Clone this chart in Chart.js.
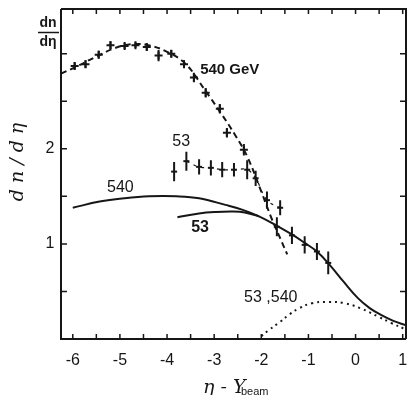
<!DOCTYPE html>
<html>
<head>
<meta charset="utf-8">
<script src="https://cdn.jsdelivr.net/npm/chart.js@4.4.1/dist/chart.umd.min.js"></script>
<style>
  html, body { margin: 0; padding: 0; background: #fff; overflow: hidden; }
  #wrap { width: 412px; height: 395px; }
</style>
</head>
<body>
<div id="wrap"><canvas id="chart" width="412" height="395"></canvas></div>
<script>
// values (x = eta - Y_beam, y = dn/deta)

// 540 GeV data points
var eta540 = [-5.96, -5.73, -5.45, -5.20, -4.90, -4.67, -4.43, -4.18, -3.91, -3.64, -3.43, -3.18, -2.88, -2.73, -2.37];
var dn540  = [2.87, 2.89, 2.99, 3.09, 3.08, 3.09, 3.07, 2.98, 3.00, 2.89, 2.75, 2.59, 2.42, 2.17, 1.99];
var err540 = [0.04, 0.04, 0.04, 0.04, 0.03, 0.03, 0.04, 0.06, 0.04, 0.04, 0.05, 0.05, 0.05, 0.05, 0.06];

// 53 GeV data points
var eta53 = [-3.85, -3.59, -3.32, -3.07, -2.83, -2.58, -2.30, -2.12, -1.88, -1.60, -1.67, -1.35, -1.08, -0.82, -0.58];
var dn53  = [1.76, 1.87, 1.81, 1.80, 1.78, 1.78, 1.78, 1.69, 1.46, 1.38, 1.18, 1.09, 0.99, 0.92, 0.80];
var err53 = [0.10, 0.10, 0.08, 0.08, 0.08, 0.07, 0.10, 0.08, 0.09, 0.08, 0.10, 0.09, 0.09, 0.09, 0.12];

// curves
var dashX = [-6.25, -5.9, -5.5, -5.1, -4.75, -4.4, -4.0, -3.6, -3.2, -2.85, -2.55, -2.3, -2.0, -1.8, -1.6, -1.45];
var dashY = [2.79, 2.87, 2.97, 3.06, 3.10, 3.09, 3.02, 2.89, 2.62, 2.37, 2.14, 1.92, 1.55, 1.29, 1.06, 0.89];

var solid540X = [-6.0, -5.43, -4.9, -4.38, -3.8, -3.32, -2.76, -2.41, -2.05, -1.74, -1.35, -1.08, -0.82, -0.55, -0.25, 0.05, 0.3, 0.55, 0.8, 1.07];
var solid540Y = [1.38, 1.445, 1.48, 1.50, 1.50, 1.48, 1.41, 1.36, 1.29, 1.21, 1.10, 1.01, 0.92, 0.78, 0.60, 0.43, 0.325, 0.25, 0.19, 0.145];

var solid53X = [-3.78, -3.32, -2.97, -2.6, -2.35, -2.05];
var solid53Y = [1.28, 1.32, 1.335, 1.34, 1.33, 1.29];

var dotX = [-2.0, -1.85, -1.63, -1.4, -1.21, -0.93, -0.58, -0.23, 0.12, 0.48, 0.75, 1.07];
var dotY = [0.03, 0.09, 0.17, 0.26, 0.32, 0.376, 0.39, 0.376, 0.32, 0.235, 0.17, 0.10];

// axis ticks
var xLabels = [-6, -5, -4, -3, -2, -1, 0, 1];
var yLabels = [1, 2];

// text placed on the plot, in data units
var notes = [
  { text: '540 GeV', x: -2.67, y: 2.83, font: 'bold 15px "Liberation Sans"' },
  { text: '53', x: -3.70, y: 2.08, font: '16px "Liberation Sans"' },
  { text: '540', x: -4.99, y: 1.59, font: '16px "Liberation Sans"' },
  { text: '53', x: -3.30, y: 1.17, font: 'bold 16px "Liberation Sans"' },
  { text: '53 ,540', x: -1.80, y: 0.44, font: '16px "Liberation Sans"' }
];

var ink = '#161616';

function pts(xs, ys) {
  return xs.map(function (x, i) { return { x: x, y: ys[i] }; });
}

function curve(xs, ys, width, dash) {
  return {
    type: 'line', data: pts(xs, ys), borderColor: ink, borderWidth: width,
    borderDash: dash, pointRadius: 0, tension: 0.4, fill: false
  };
}

// frame, inward ticks, labels and error bars, all placed through the chart's scales
var framePlugin = {
  id: 'frame',
  afterDatasetsDraw: function (chart) {
    var ctx = chart.ctx, sx = chart.scales.x, sy = chart.scales.y, a = chart.chartArea;
    ctx.save();
    ctx.strokeStyle = ink;
    ctx.fillStyle = ink;

    // error bars
    ctx.lineWidth = 2;
    ctx.beginPath();
    eta540.forEach(function (x, i) {
      var px = sx.getPixelForValue(x);
      ctx.moveTo(px, sy.getPixelForValue(dn540[i] - err540[i]));
      ctx.lineTo(px, sy.getPixelForValue(dn540[i] + err540[i]));
    });
    eta53.forEach(function (x, i) {
      var px = sx.getPixelForValue(x);
      ctx.moveTo(px, sy.getPixelForValue(dn53[i] - err53[i]));
      ctx.lineTo(px, sy.getPixelForValue(dn53[i] + err53[i]));
    });
    ctx.stroke();

    // axes
    ctx.lineWidth = 2;
    ctx.beginPath();
    ctx.moveTo(a.left, a.top); ctx.lineTo(a.left, a.bottom); ctx.lineTo(a.right, a.bottom);
    ctx.moveTo(a.left, a.top); ctx.lineTo(a.right, a.top); ctx.lineTo(a.right, a.bottom);
    ctx.stroke();

    ctx.lineWidth = 1.5;
    ctx.beginPath();
    for (var v = -6; v <= 1.001; v += 0.5) {
      var px = sx.getPixelForValue(v);
      ctx.moveTo(px, a.bottom); ctx.lineTo(px, a.bottom - 5);
      ctx.moveTo(px, a.top); ctx.lineTo(px, a.top + 5);
    }
    for (var w = 0.5; w <= 3.001; w += 0.5) {
      var py = sy.getPixelForValue(w);
      ctx.moveTo(a.left, py); ctx.lineTo(a.left + 6, py);
      ctx.moveTo(a.right, py); ctx.lineTo(a.right - 6, py);
    }
    ctx.stroke();

    // tick labels
    ctx.font = '16px "Liberation Sans"';
    ctx.textAlign = 'center';
    ctx.textBaseline = 'middle';
    xLabels.forEach(function (v) {
      ctx.fillText(String(v), sx.getPixelForValue(v), 361);
    });
    yLabels.forEach(function (v) {
      ctx.fillText(String(v), 50, sy.getPixelForValue(v));
    });

    // dn/deta fraction in place of the top label
    ctx.font = 'bold 14px "Liberation Sans"';
    ctx.fillText('dn', 48, 23);
    ctx.fillText('d\u03b7', 48, 42);
    ctx.lineWidth = 1.5;
    ctx.beginPath();
    ctx.moveTo(38, 32.5); ctx.lineTo(59, 32.5);
    ctx.stroke();

    // y title
    ctx.save();
    ctx.translate(18, 162);
    ctx.rotate(-Math.PI / 2);
    ctx.font = 'italic 19px "DejaVu Serif"';
    ctx.fillText('d n / d \u03b7', 0, 0);
    ctx.restore();

    // x title
    ctx.textAlign = 'left';
    ctx.textBaseline = 'alphabetic';
    ctx.font = 'italic 19px "DejaVu Serif"';
    ctx.fillText('\u03b7 - Y', 203, 393);
    ctx.font = '11px "Liberation Sans"';
    ctx.fillText('beam', 241, 395);

    // curve labels
    ctx.textAlign = 'center';
    ctx.textBaseline = 'middle';
    notes.forEach(function (n) {
      ctx.font = n.font;
      ctx.fillText(n.text, sx.getPixelForValue(n.x), sy.getPixelForValue(n.y));
    });
    ctx.restore();
  }
};

new Chart(document.getElementById('chart'), {
  type: 'scatter',
  data: {
    datasets: [
      curve(dashX, dashY, 2, [6, 4]),
      curve(solid540X, solid540Y, 2, []),
      curve(solid53X, solid53Y, 2, []),
      curve(dotX, dotY, 2, [2, 4]),
      curve(eta53.slice(1, 10), dn53.slice(1, 10), 1.2, [3, 5]),
      {
        data: pts(eta540, dn540), showLine: false, pointStyle: 'cross',
        pointRadius: 4, borderColor: ink, borderWidth: 2
      },
      {
        data: pts(eta53, dn53), showLine: false, pointStyle: 'line',
        pointRadius: 3, borderColor: ink, borderWidth: 2
      }
    ]
  },
  options: {
    responsive: false,
    animation: false,
    layout: { padding: { left: 61, top: 9, right: 4, bottom: 56 } },
    plugins: { legend: { display: false }, tooltip: { enabled: false } },
    scales: {
      x: { type: 'linear', min: -6.25, max: 1.07, display: false },
      y: { type: 'linear', min: 0, max: 3.47, display: false }
    }
  },
  plugins: [framePlugin]
});
</script>
</body>
</html>
